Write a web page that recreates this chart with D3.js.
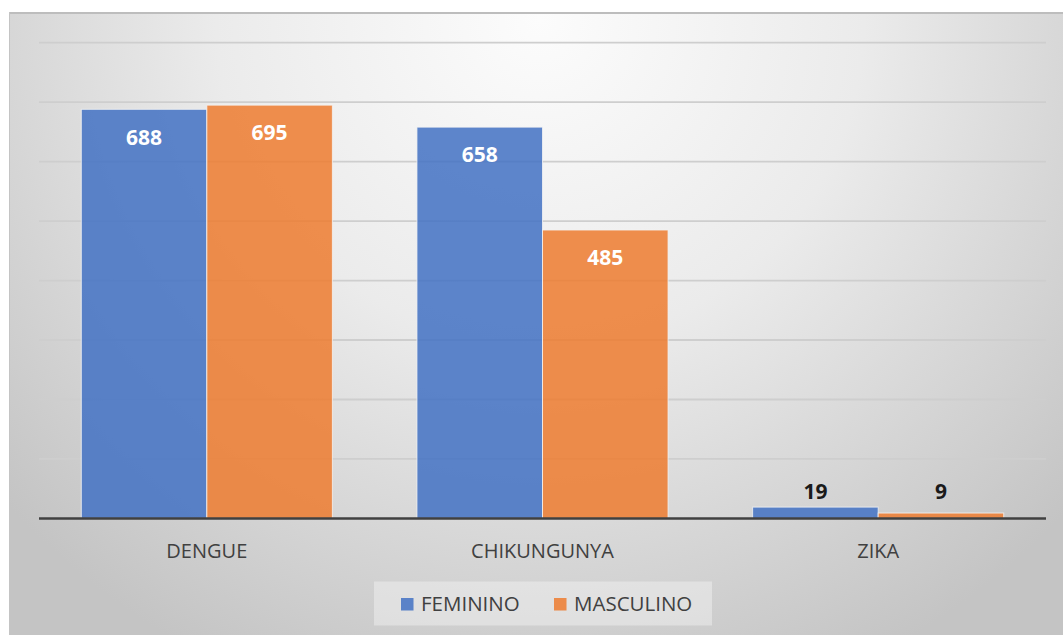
<!DOCTYPE html>
<html>
<head>
<meta charset="utf-8">
<script src="https://cdn.jsdelivr.net/npm/d3@7"></script>
<style>
  body { margin: 0; background: #ffffff; }
  svg { display: block; font-family: 'Open Sans', sans-serif; }
</style>
</head>
<body>
<div id="chart"></div>
<script>
  // data
  const categories = ['DENGUE', 'CHIKUNGUNYA', 'ZIKA'];
  const seriesNames = ['FEMININO', 'MASCULINO'];
  const feminino = [688, 658, 19];
  const masculino = [695, 485, 9];
  const yTicks = [0, 100, 200, 300, 400, 500, 600, 700, 800];

  const colors = d3.scaleOrdinal()
    .domain(seriesNames)
    .range(['#4472c4', '#ed7d31']);

  const rows = categories.map(function(c, i) {
    return { cat: c, values: [
      { key: 'FEMININO', value: feminino[i] },
      { key: 'MASCULINO', value: masculino[i] }
    ] };
  });

  const W = 1063, H = 635;
  const plot = { left: 39, right: 1046, top: 42.7, bottom: 518.4 };

  const svg = d3.select('#chart').append('svg')
    .attr('width', W)
    .attr('height', H);

  // background gradient
  const defs = svg.append('defs');
  const grad = defs.append('radialGradient')
    .attr('id', 'bg')
    .attr('gradientUnits', 'userSpaceOnUse')
    .attr('cx', 540).attr('cy', 20).attr('r', 720);
  grad.append('stop').attr('offset', '0%').attr('stop-color', '#fcfcfc');
  grad.append('stop').attr('offset', '45%').attr('stop-color', '#ebebeb');
  grad.append('stop').attr('offset', '100%').attr('stop-color', '#c4c4c4');

  svg.append('rect')
    .attr('x', 9).attr('y', 12)
    .attr('width', W - 9).attr('height', H - 12)
    .attr('fill', 'url(#bg)');
  svg.append('line')
    .attr('x1', 9).attr('x2', W).attr('y1', 13).attr('y2', 13)
    .attr('stroke', '#bdbdbd').attr('stroke-width', 2);
  svg.append('line')
    .attr('x1', 9.5).attr('x2', 9.5).attr('y1', 12).attr('y2', H)
    .attr('stroke', '#c4c4c4').attr('stroke-width', 1);

  // scales
  const x0 = d3.scaleBand()
    .domain(categories)
    .range([plot.left, plot.right]);

  const bw = x0.bandwidth();
  const x1 = d3.scaleBand()
    .domain(seriesNames)
    .range([bw * 0.126, bw * 0.874]);

  const y = d3.scaleLinear()
    .domain([0, 800])
    .range([plot.bottom, plot.top]);

  // gridlines
  svg.append('g')
    .selectAll('line')
    .data(yTicks.filter(function(t) { return t > 0; }))
    .enter()
    .append('line')
    .attr('x1', plot.left)
    .attr('x2', plot.right)
    .attr('y1', function(d) { return y(d); })
    .attr('y2', function(d) { return y(d); })
    .attr('stroke', '#cecece')
    .attr('stroke-width', 1.8);

  // bars
  const groups = svg.selectAll('.grp')
    .data(rows)
    .enter()
    .append('g')
    .attr('class', 'grp')
    .attr('transform', function(d) { return `translate(${ x0(d.cat) }, 0)`; });

  groups.selectAll('rect')
    .data(function(d) { return d.values; })
    .enter()
    .append('rect')
    .attr('x', function(d) { return x1(d.key); })
    .attr('width', x1.bandwidth())
    .attr('y', function(d) { return y(d.value); })
    .attr('height', function(d) { return y(0) - y(d.value); })
    .attr('fill', function(d) { return colors(d.key); })
    .attr('fill-opacity', 0.86)
    .attr('stroke', '#f4f4f4')
    .attr('stroke-opacity', 0.8)
    .attr('stroke-width', 1);

  // value labels: inside end for tall bars, above for short ones
  groups.each(function(g) {
    const topMin = d3.min(g.values, function(d) { return y(d.value); });
    d3.select(this).selectAll('text.val')
      .data(g.values)
      .enter()
      .append('text')
      .attr('class', 'val')
      .attr('x', function(d) { return x1(d.key) + x1.bandwidth() / 2; })
      .attr('y', function(d) {
        const h = y(0) - y(d.value);
        return h > 60 ? y(d.value) + 28 : topMin - 15;
      })
      .attr('dy', '0.35em')
      .attr('text-anchor', 'middle')
      .style('font-size', '21px')
      .style('font-weight', 'bold')
      .attr('fill', function(d) { return (y(0) - y(d.value)) > 60 ? '#ffffff' : '#1a1a1a'; })
      .text(function(d) { return d.value; });
  });

  // x axis baseline
  svg.append('line')
    .attr('x1', plot.left)
    .attr('x2', plot.right)
    .attr('y1', y(0))
    .attr('y2', y(0))
    .attr('stroke', '#404040')
    .attr('stroke-width', 2.5);

  // category labels
  svg.append('g')
    .selectAll('text')
    .data(categories)
    .enter()
    .append('text')
    .attr('x', function(d) { return x0(d) + bw / 2; })
    .attr('y', 558)
    .attr('text-anchor', 'middle')
    .attr('fill', '#404040')
    .style('font-size', '20px')
    .text(function(d) { return d; });

  // legend
  svg.append('rect')
    .attr('x', 374).attr('y', 581.5)
    .attr('width', 338).attr('height', 44)
    .attr('fill', '#ffffff')
    .attr('fill-opacity', 0.35);

  const legendX = [401, 554];
  const legend = svg.selectAll('.legend')
    .data(seriesNames)
    .enter()
    .append('g')
    .attr('class', 'legend')
    .attr('transform', function(d, i) { return `translate(${ legendX[i] }, 598)`; });

  legend.append('rect')
    .attr('width', 12.5)
    .attr('height', 12.5)
    .attr('fill', colors)
    .attr('fill-opacity', 0.86);

  legend.append('text')
    .attr('x', 20)
    .attr('y', 13)
    .attr('fill', '#404040')
    .style('font-size', '20.5px')
    .text(function(d) { return d; });
</script>
</body>
</html>
